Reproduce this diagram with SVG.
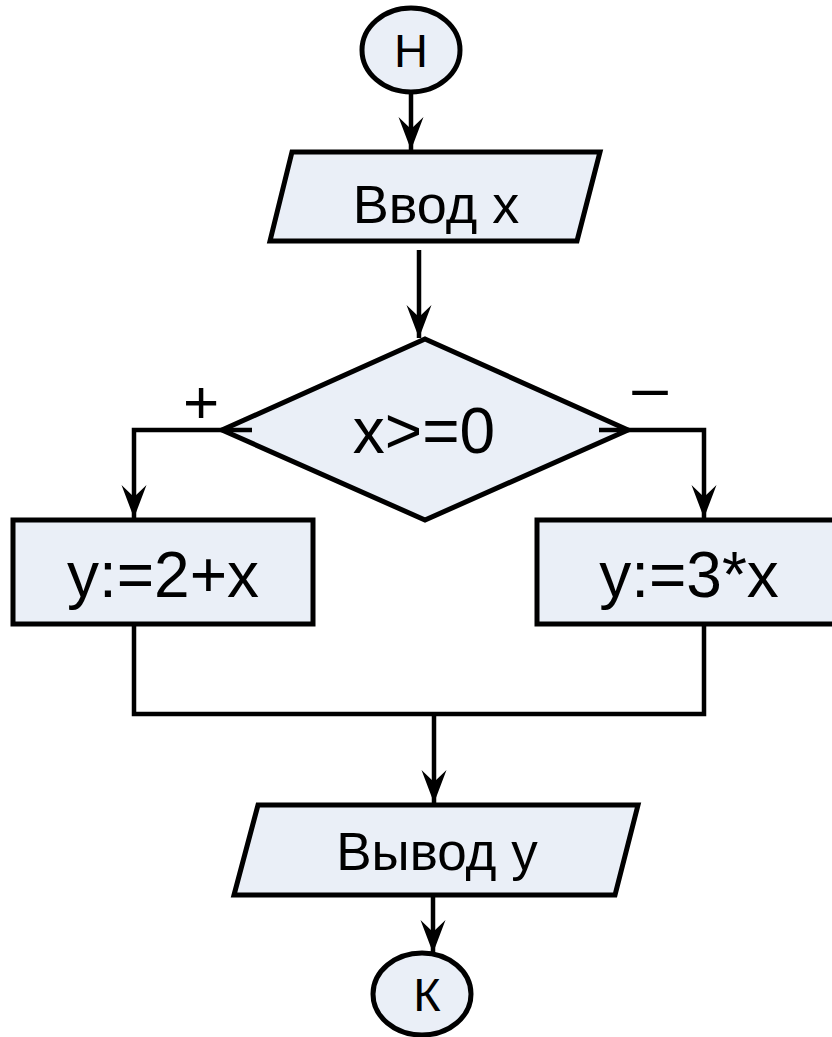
<svg xmlns="http://www.w3.org/2000/svg" width="832" height="1037" viewBox="0 0 832 1037">
<style>
.node{fill:#eaeff7;stroke:#000;stroke-width:5;stroke-linejoin:miter}
.conn{fill:none;stroke:#000;stroke-width:4.5}
text{font-family:"Liberation Sans",Arial,sans-serif;fill:#000;text-anchor:middle}
</style>
<defs>
<marker id="arr" markerUnits="userSpaceOnUse" viewBox="-34 -14 36 28" refX="0" refY="0" markerWidth="36" markerHeight="28" orient="auto">
<path d="M0,0 L-33,-12.5 L-21,0 L-33,12.5 Z" fill="#000"/>
</marker>
</defs>
<rect width="832" height="1037" fill="#fff"/>
<g id="start">
<ellipse class="node" cx="411" cy="50" rx="49" ry="42"/>
<text x="411" y="67" font-size="47">Н</text>
</g>
<g id="input">
<polygon class="node" points="292,152 600,152 577,241 270,241"/>
<text x="436" y="223" font-size="54">Ввод x</text>
</g>
<g id="decision">
<polygon class="node" points="425,339 628,430 425,520 222,430"/>
<text x="424" y="453" font-size="64">x&gt;=0</text>
</g>
<g id="left">
<rect class="node" x="13" y="520" width="300" height="104"/>
<text x="163" y="597" font-size="64">y:=2+x</text>
</g>
<g id="right">
<rect class="node" x="537" y="520" width="304" height="104"/>
<text x="689" y="597" font-size="64">y:=3*x</text>
</g>
<g id="output">
<polygon class="node" points="258,805 638,805 615,895 234,895"/>
<text x="437" y="870" font-size="53">Вывод y</text>
</g>
<g id="end">
<ellipse class="node" cx="422" cy="994" rx="49" ry="41"/>
<text x="427" y="1011" font-size="47">К</text>
</g>
<g id="connectors">
<path class="conn" d="M411,92 L411,150" marker-end="url(#arr)"/>
<path class="conn" d="M419,250 L419,338" marker-end="url(#arr)"/>
<path class="conn" d="M252,430 L134,430 L134,518" marker-end="url(#arr)"/>
<path class="conn" d="M599,430 L704,430 L704,518" marker-end="url(#arr)"/>
<path class="conn" d="M134,624 L134,714 L704,714 L704,624"/>
<path class="conn" d="M434,714 L434,803" marker-end="url(#arr)"/>
<path class="conn" d="M433,895 L433,953" marker-end="url(#arr)"/>
<text x="201" y="423" font-size="62">+</text>
<text x="650" y="409" font-size="64">–</text>
</g>
</svg>
